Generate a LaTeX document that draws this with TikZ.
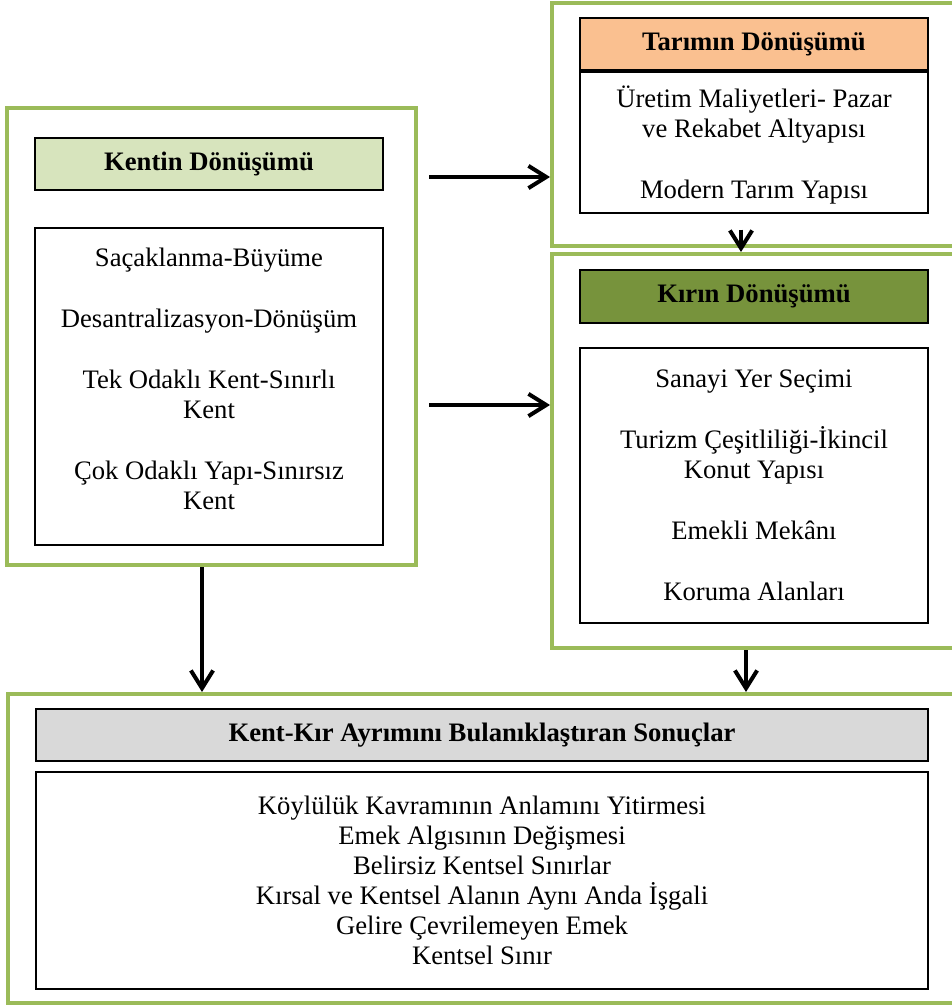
\documentclass[tikz,border=0pt]{standalone}
\usepackage{fontspec}
\setmainfont{Liberation Serif}
\usepackage{xcolor}
\usetikzlibrary{arrows.meta}

\definecolor{frameGreen}{HTML}{9BBB59}
\definecolor{kentFill}{HTML}{D7E4BD}
\definecolor{tarimFill}{HTML}{FAC090}
\definecolor{kirFill}{HTML}{77933C}
\definecolor{sonucFill}{HTML}{D9D9D9}
\def\pu{0.45pt}

\begin{document}
\begin{tikzpicture}[x=0.45pt, y=-0.45pt, ->, >={Straight Barb[length=8pt, width=10pt]},
    line width=1.8pt,
    every node/.style={font=\fontsize{12}{13.5}\selectfont, inner sep=0pt},
    outer/.style={draw=frameGreen, line width=1.8pt, fill=white},
    head/.style={draw=black, line width=0.6pt, minimum width=348*\pu, minimum height=52*\pu, font=\fontsize{12}{13.5}\selectfont\bfseries},
    list/.style={draw=black, line width=0.6pt, fill=white, minimum width=348*\pu, align=center}]
                    \useasboundingbox (0,0) rectangle (951,1007);

                    % Outer frames
                    \node[outer, minimum width=409*\pu, minimum height=457*\pu] (kentOuter) at (211.5, 336.5) {};
                    \node[outer, minimum width=408*\pu, minimum height=243*\pu] (tarimOuter) at (756, 124.5) {};
                    \node[outer, minimum width=408*\pu, minimum height=394*\pu] (kirOuter) at (756, 451) {};
                    \node[outer, minimum width=952*\pu, minimum height=309*\pu] (sonucOuter) at (484, 848.5) {};

                    % Kent
                    \node[head, fill=kentFill] (kentHead) at (209, 164) {Kentin Dönüşümü};
                    \node[list, minimum height=317*\pu, text depth=7pt] (kentList) at (209, 386.5) {Saçaklanma-Büyüme\\[14pt] Desantralizasyon-Dönüşüm\\[14pt] Tek Odaklı Kent-Sınırlı\\ Kent\\[14pt] Çok Odaklı Yapı-Sınırsız\\ Kent};

                    % Tarim
                    \node[head, fill=tarimFill] (tarimHead) at (754, 44) {Tarımın Dönüşümü};
                    \node[list, minimum height=141*\pu, text depth=0pt] (tarimList) at (754, 142.5) {Üretim Maliyetleri- Pazar\\ ve Rekabet Altyapısı\\[14pt] Modern Tarım Yapısı};

                    % Kir
                    \node[head, fill=kirFill, minimum height=53*\pu] (kirHead) at (754, 296.5) {Kırın Dönüşümü};
                    \node[list, minimum height=275*\pu] (kirList) at (754, 485.5) {Sanayi Yer Seçimi\\[14pt] Turizm Çeşitliliği-İkincil\\ Konut Yapısı\\[14pt] Emekli Mekânı\\[14pt] Koruma Alanları};

                    % Sonuc
                    \node[head, fill=sonucFill, minimum width=892*\pu] (sonucHead) at (482, 735) {Kent-Kır Ayrımını Bulanıklaştıran Sonuçlar};
                    \node[list, minimum width=892*\pu, minimum height=217*\pu] (sonucList) at (482, 880.5) {Köylülük Kavramının Anlamını Yitirmesi\\ Emek Algısının Değişmesi\\ Belirsiz Kentsel Sınırlar\\ Kırsal ve Kentsel Alanın Aynı Anda İşgali\\ Gelire Çevrilemeyen Emek\\ Kentsel Sınır};

                    % Edges
                    \draw[shorten <=11*\pu] (kentOuter.east |- 0,177) -- (tarimOuter.west |- 0,177);
                    \draw[shorten <=11*\pu] (kentOuter.east |- 0,405) -- (kirOuter.west |- 0,405);
                    \draw[shorten <=16*\pu] (tarimList.south -| 741,0) -- (kirOuter.north -| 741,0);
                    \draw (kentOuter.south -| 202,0) -- (sonucOuter.north -| 202,0);
                    \draw (kirOuter.south -| 746,0) -- (sonucOuter.north -| 746,0);
                \end{tikzpicture}
\end{document}
